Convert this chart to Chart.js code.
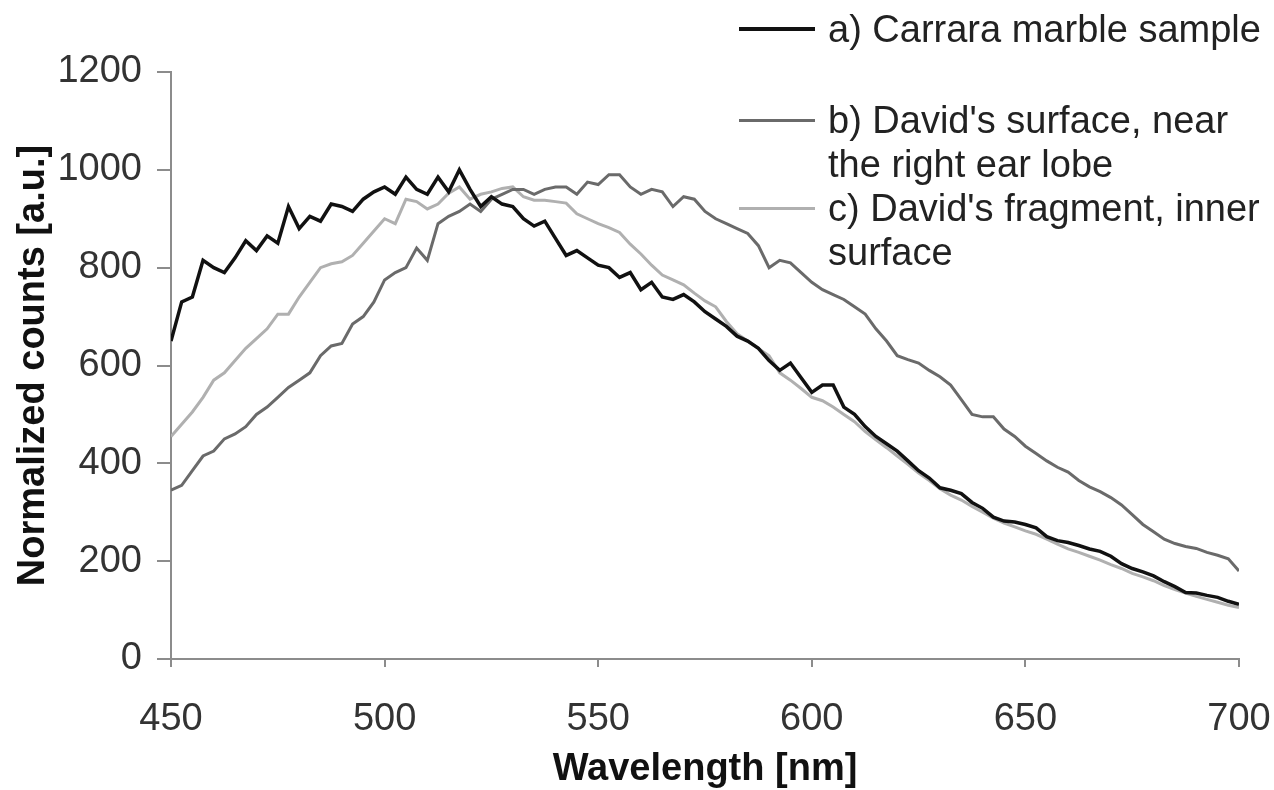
<!DOCTYPE html>
<html>
<head>
<meta charset="utf-8">
<script src="https://cdn.jsdelivr.net/npm/chart.js@4"></script>
<style>
  html, body { margin: 0; padding: 0; background: #fff; }
  #wrap { position: relative; width: 1274px; height: 790px; overflow: hidden; }
  #legend { position: absolute; left: 0; top: 0; width: 1274px; height: 300px; pointer-events: none; }
  .item { position: absolute; left: 739px; font-family: "Liberation Sans", Arial, sans-serif; font-size: 38px; line-height: 44px; color: #222; white-space: nowrap; }
  .swatch { position: absolute; left: 0; width: 76px; }
  .label { position: absolute; left: 89px; }
</style>
</head>
<body>
<div id="wrap">
  <canvas id="spectraChart" width="1274" height="790"></canvas>
  <div id="legend"></div>
</div>
<script>
// longitudes de onda (nm), paso 2.5
const wavelengths = [
  450, 452.5, 455, 457.5, 460, 462.5, 465, 467.5, 470, 472.5,
  475, 477.5, 480, 482.5, 485, 487.5, 490, 492.5, 495, 497.5,
  500, 502.5, 505, 507.5, 510, 512.5, 515, 517.5, 520, 522.5,
  525, 527.5, 530, 532.5, 535, 537.5, 540, 542.5, 545, 547.5,
  550, 552.5, 555, 557.5, 560, 562.5, 565, 567.5, 570, 572.5,
  575, 577.5, 580, 582.5, 585, 587.5, 590, 592.5, 595, 597.5,
  600, 602.5, 605, 607.5, 610, 612.5, 615, 617.5, 620, 622.5,
  625, 627.5, 630, 632.5, 635, 637.5, 640, 642.5, 645, 647.5,
  650, 652.5, 655, 657.5, 660, 662.5, 665, 667.5, 670, 672.5,
  675, 677.5, 680, 682.5, 685, 687.5, 690, 692.5, 695, 697.5,
  700
];

// a) Carrara marble sample
const carraraCounts = [
  650, 730, 740, 815, 800, 790, 820, 855, 835, 865,
  850, 925, 880, 905, 895, 930, 925, 915, 940, 955,
  965, 950, 985, 960, 950, 985, 955, 1000, 960, 925,
  945, 930, 925, 900, 885, 895, 860, 825, 835, 820,
  805, 800, 780, 790, 755, 770, 740, 735, 745, 730,
  710, 695, 680, 660, 650, 635, 610, 590, 605, 575,
  545, 560, 560, 515, 500, 475, 455, 440, 425, 405,
  385, 370, 350, 345, 338, 320, 308, 290, 282, 280,
  275, 268, 250, 242, 238, 232, 225, 220, 210, 195,
  185, 178, 170, 158, 148, 136, 135, 130, 126, 118,
  112
];

// b) David's surface, near the right ear lobe
const surfaceCounts = [
  345, 355, 385, 415, 425, 450, 460, 475, 500, 515,
  535, 555, 570, 585, 620, 640, 645, 685, 700, 730,
  775, 790, 800, 840, 815, 890, 905, 915, 930, 915,
  940, 950, 960, 960, 950, 960, 965, 965, 950, 975,
  970, 990, 990, 965, 950, 960, 955, 925, 945, 940,
  915, 900, 890, 880, 870, 845, 800, 815, 810, 790,
  770, 755, 745, 735, 720, 705, 675, 650, 620, 612,
  605, 590, 577, 560, 530, 500, 495, 495, 470, 455,
  435, 420, 405, 392, 382, 365, 352, 342, 330, 315,
  295, 275, 260, 245, 236, 230, 226, 218, 212, 205,
  180
];

// c) David's fragment, inner surface
const fragmentCounts = [
  455, 480, 505, 535, 570, 585, 610, 635, 655, 675,
  705, 705, 740, 770, 800, 808, 812, 825, 850, 875,
  900, 890, 940, 935, 920, 930, 952, 965, 940, 950,
  955, 962, 965, 945, 938, 938, 935, 932, 910, 900,
  890, 882, 872, 848, 828, 805, 785, 775, 765, 748,
  732, 720, 690, 665, 650, 635, 620, 585, 570, 553,
  535, 528, 515, 500, 485, 465, 448, 432, 415, 398,
  380, 365, 348, 335, 325, 312, 300, 288, 278, 270,
  262, 255, 245, 235, 225, 218, 210, 202, 193, 185,
  175, 168, 160, 150, 142, 135, 128, 122, 116, 110,
  105
];

const seriesLabels = [
  ['a) Carrara marble sample'],
  ['b) David\'s surface, near', 'the right ear lobe'],
  ['c) David\'s fragment, inner', 'surface']
];

const xTicks = [450, 500, 550, 600, 650, 700];
const yTicks = [0, 200, 400, 600, 800, 1000, 1200];

const seriesColors = ['#111111', '#6a6a6a', '#b0b0b0'];
const seriesWidths = [3.5, 3, 3];

function toPoints(values) {
    return wavelengths.map((w, i) => ({ x: w, y: values[i] }));
}

const axisColor = '#8c8c8c';
const tickFont = { family: '"Liberation Sans", Arial, sans-serif', size: 38 };
const titleFont = { family: '"Liberation Sans", Arial, sans-serif', size: 38, weight: 'bold', lineHeight: 1 };

const ctx = document.getElementById('spectraChart');

new Chart(ctx, {
    type: 'line',
    data: {
        datasets: [carraraCounts, surfaceCounts, fragmentCounts].map((vals, i) => ({
            label: seriesLabels[i].join(' '),
            data: toPoints(vals),
            borderColor: seriesColors[i],
            borderWidth: seriesWidths[i],
            pointRadius: 0,
            tension: 0,
            fill: false
        }))
    },
    options: {
        responsive: false,
        animation: false,
        layout: { padding: { top: 72, right: 35, left: 0, bottom: 0 } },
        plugins: {
            legend: { display: false },
            tooltip: { enabled: false }
        },
        scales: {
            x: {
                type: 'linear',
                min: 450,
                max: 700,
                afterBuildTicks: (scale) => { scale.ticks = xTicks.map(v => ({ value: v })); },
                afterFit: (scale) => {
                    scale.height = 131;
                    scale.paddingLeft = 0;
                    scale.paddingRight = 0;
                },
                grid: { drawOnChartArea: false, drawTicks: true, tickLength: 8, color: axisColor, lineWidth: 2 },
                border: { color: axisColor, width: 2 },
                ticks: { font: tickFont, color: '#333', padding: 30, maxRotation: 0, callback: (v) => String(v) },
                title: { display: true, text: 'Wavelength [nm]', font: titleFont, color: '#111', padding: { top: 0, bottom: 1 } }
            },
            y: {
                min: 0,
                max: 1200,
                afterBuildTicks: (scale) => { scale.ticks = yTicks.map(v => ({ value: v })); },
                afterFit: (scale) => {
                    scale.width = 171;
                    scale.paddingTop = 0;
                    scale.paddingBottom = 0;
                },
                grid: { drawOnChartArea: false, drawTicks: true, tickLength: 14, color: axisColor, lineWidth: 2 },
                border: { color: axisColor, width: 2 },
                ticks: { font: tickFont, color: '#333', padding: 15, callback: (v) => String(v) },
                title: { display: true, text: 'Normalized counts [a.u.]', font: titleFont, color: '#111', padding: { top: 15, bottom: 0 } }
            }
        }
    }
});

// leyenda manual (texto real) arriba a la derecha
const legendTops = [7, 98, 186];
const legendBox = document.getElementById('legend');
seriesLabels.forEach((lines, i) => {
    const item = document.createElement('div');
    item.className = 'item';
    item.style.top = legendTops[i] + 'px';
    const sw = document.createElement('div');
    sw.className = 'swatch';
    sw.style.top = (22 - seriesWidths[i] / 2) + 'px';
    sw.style.borderTop = (seriesWidths[i] + 0.5) + 'px solid ' + seriesColors[i];
    const lab = document.createElement('div');
    lab.className = 'label';
    lab.innerHTML = lines.join('<br>');
    item.appendChild(sw);
    item.appendChild(lab);
    legendBox.appendChild(item);
});
</script>
</body>
</html>
